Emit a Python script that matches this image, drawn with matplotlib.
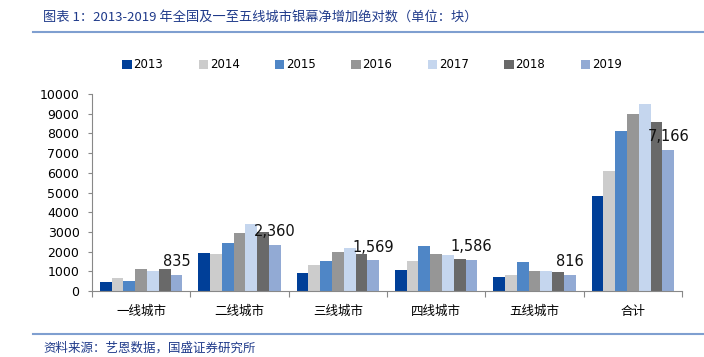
import matplotlib
matplotlib.use('Agg')
import matplotlib.pyplot as plt
import numpy as np

plt.rcParams['font.family'] = ['DejaVu Sans', 'Noto Sans CJK SC']

# data
categories = ['一线城市', '二线城市', '三线城市', '四线城市', '五线城市', '合计']
years = ['2013', '2014', '2015', '2016', '2017', '2018', '2019']
v2013 = [460, 1920, 900, 1070, 714, 4830]
v2014 = [646, 1890, 1310, 1500, 800, 6105]
v2015 = [510, 2450, 1500, 2260, 1460, 8130]
v2016 = [1140, 2960, 1970, 1900, 1040, 8960]
v2017 = [1020, 3420, 2190, 1840, 1040, 9490]
v2018 = [1140, 2976, 1900, 1616, 986, 8590]
v2019 = [835, 2360, 1569, 1586, 816, 7166]
series = [v2013, v2014, v2015, v2016, v2017, v2018, v2019]

colors = ['#003F98', '#CCCCCC', '#4F86C6', '#969696', '#C5D6EE', '#696969', '#92AAD4']
title_color = '#1F3A8A'
rule_color = '#7F9FD0'

fig = plt.figure(figsize=(7.04, 3.57), dpi=100)
ax = fig.add_axes([92/704, 1 - 291/357, 590/704, 197/357])

x = np.arange(len(categories))
bw = 0.12
for i, (vals, c, yr) in enumerate(zip(series, colors, years)):
    pos = x + (i - 3) * bw
    bars = ax.bar(pos, vals, width=bw, color=c, label=yr, linewidth=0)
    if yr == '2019':
        for b, v in zip(bars, vals):
            ax.annotate('{:,}'.format(v), (b.get_x() + b.get_width()/2, v),
                        xytext=(0, 4), textcoords='offset points',
                        ha='center', va='bottom', fontsize=10.5, color='#111111')

ax.set_xlim(-0.5, len(categories) - 0.5)
ax.set_ylim(0, 10000)
ax.set_yticks(np.arange(0, 10001, 1000))
ax.tick_params(axis='y', labelsize=9, length=3, color='#888888', pad=6)
ax.set_xticks(np.arange(-0.5, len(categories), 1.0))
ax.set_xticklabels([])
ax.tick_params(axis='x', length=4, color='#888888', direction='out')
for i, cat in enumerate(categories):
    ax.text(i, -0.07, cat, transform=ax.get_xaxis_transform(), ha='center', va='top',
            fontsize=9, family=['Noto Sans CJK SC', 'DejaVu Sans'])

for s in ['top', 'right']:
    ax.spines[s].set_visible(False)
ax.spines['left'].set_color('#888888')
ax.spines['bottom'].set_color('#888888')

handles, labels = ax.get_legend_handles_labels()
fig.legend(handles, labels, loc='center', bbox_to_anchor=(372/704, 1 - 65/357), ncol=7,
           frameon=False, fontsize=8.5, handlelength=0.8, handleheight=0.8,
           handletextpad=0.15, columnspacing=3.0)

fig.text(43/704, 1 - 17/357, '图表 1：2013-2019 年全国及一至五线城市银幕净增加绝对数（单位：块）',
         color=title_color, fontsize=9.5, style='italic', va='center',
         family=['Noto Sans CJK SC', 'DejaVu Sans'])
fig.add_artist(plt.Line2D([33/704, 1], [1 - 32/357, 1 - 32/357], color=rule_color, linewidth=1.5))
fig.add_artist(plt.Line2D([33/704, 1], [1 - 334/357, 1 - 334/357], color=rule_color, linewidth=1.5))
fig.text(43/704, 1 - 348/357, '资料来源：艺恩数据，国盛证券研究所',
         color=title_color, fontsize=9, style='italic', va='center',
         family=['Noto Sans CJK SC', 'DejaVu Sans'])

fig.savefig('out.png', dpi=100)
